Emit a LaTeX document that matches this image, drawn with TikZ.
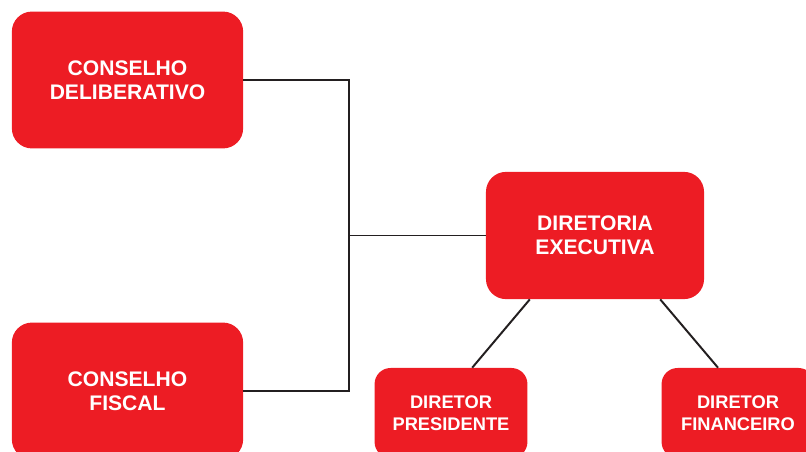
\documentclass[tikz,border=0pt]{standalone}
\usepackage{fontspec}
\setmainfont{Liberation Sans}
\usetikzlibrary{positioning,calc}
\definecolor{orgred}{HTML}{ED1C24}
\definecolor{orgline}{HTML}{231F20}
\tikzset{
    orgchart/.style={
        x=0.025cm, y=-0.025cm,
        % caixas vermelhas do organograma
        board/.style={fill=orgred, rounded corners=0.5cm, align=center,
                      text=white, font=\fontsize{15}{17}\selectfont\bfseries,
                      minimum width=5.78cm, minimum height=3.42cm},
        execbox/.style={board, minimum width=5.45cm, minimum height=3.18cm},
        officer/.style={board, font=\fontsize{13}{15.3}\selectfont\bfseries,
                        rounded corners=0.4cm,
                        minimum width=3.82cm, minimum height=2.25cm},
        % ligacoes
        link/.style={draw=orgline, line width=1.4pt}
    }
}
\begin{document}
\begin{tikzpicture}[orgchart]
    \useasboundingbox (0,0) rectangle (806,452);
    \clip (0,0) rectangle (806,452);
    \node[board] (delib) at (127.5,80) {CONSELHO\\DELIBERATIVO};
    \node[board] (fiscal) at (127.5,391) {CONSELHO\\FISCAL};
    \node[execbox] (exec) at (595,235.5) {DIRETORIA\\EXECUTIVA};
    \node[officer] (pres) at (451,413) {DIRETOR\\PRESIDENTE};
    \node[officer] (fin) at (738,413) {DIRETOR\\FINANCEIRO};
    \coordinate (hub) at (349,235.5);
    \draw[link] (delib.east) -| (hub) |- (fiscal.east);
    \draw[link] (exec.west) -- (hub);
    \draw[link] ([xshift=-1.63cm]exec.south) -- ([xshift=0.53cm]pres.north);
    \draw[link] ([xshift=1.63cm]exec.south) -- ([xshift=-0.5cm]fin.north);
\end{tikzpicture}
\end{document}
